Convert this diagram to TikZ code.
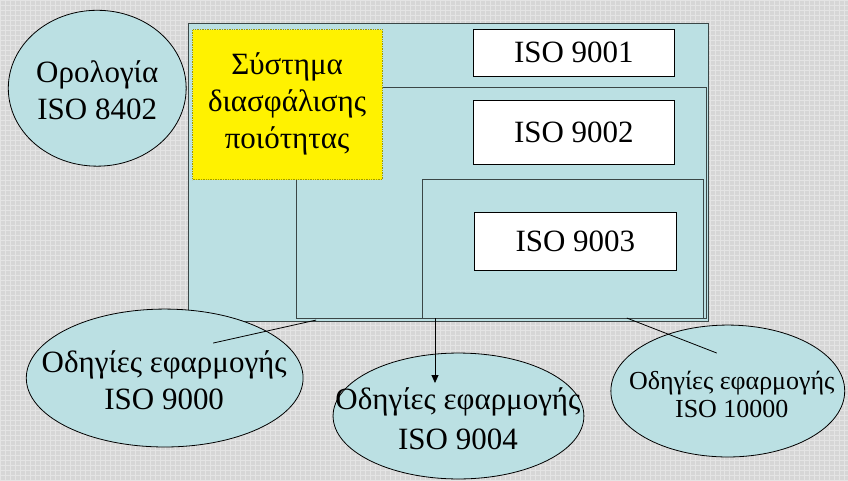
\documentclass[tikz,border=0pt]{standalone}
\usepackage{fontspec}
\newfontfamily\serifgr{Liberation Serif}
\usetikzlibrary{shapes.geometric,arrows.meta}

\definecolor{bgGray}{HTML}{D6D6D6}
\definecolor{gridLight}{HTML}{E4E4E4}
\definecolor{panel}{HTML}{BBE0E3}
\definecolor{edge}{HTML}{3A4646}
\definecolor{dotline}{HTML}{A09A00}

\begin{document}
\begin{tikzpicture}[x=1pt,y=-1pt,
  panelbox/.style={draw=edge,line width=1pt,fill=panel,inner sep=0pt,anchor=north west},
  stdbox/.style={draw=black,line width=0.8pt,fill=white,inner sep=0pt,
    font=\serifgr\fontsize{31}{37}\selectfont},
  notebox/.style={fill=yellow,draw=dotline,densely dotted,line width=0.7pt,
    inner sep=0pt,anchor=north west},
  bubble/.style={ellipse,draw=black,line width=0.8pt,fill=panel,inner sep=0pt},
  bigtext/.style={font=\serifgr\fontsize{31}{37}\selectfont,align=center,inner sep=0pt},
  smalltext/.style={font=\serifgr\fontsize{26}{28}\selectfont,align=center,inner sep=0pt},
  link/.style={draw=black,line width=0.8pt}]

% backdrop: grey with a fine lighter grid
\fill[bgGray] (0,0) rectangle (848,480);
\draw[gridLight,line width=0.6pt,step=5pt] (0,0) grid (848,480);
\useasboundingbox (0,0) rectangle (848,480);

% nested standards panels
\node[panelbox,minimum width=520pt,minimum height=298pt] (outer) at (188,23) {};
\node[panelbox,minimum width=410pt,minimum height=231pt] (mid) at (296,87) {};
\node[panelbox,minimum width=281pt,minimum height=139pt] (inner) at (422,179) {};

% quality system label
\node[notebox,minimum width=190pt,minimum height=150pt] (qs) at (192,29) {};
\node[bigtext] (qstext) at (287,104) {Σύστημα\\διασφάλισης\\ποιότητας};

% standard boxes
\node[stdbox,minimum width=202pt,minimum height=47pt] (s9001) at (574,52.5) {ISO 9001};
\node[stdbox,minimum width=202pt,minimum height=64pt] (s9002) at (574,132.5) {ISO 9002};
\node[stdbox,minimum width=203pt,minimum height=58pt] (s9003) at (575.5,241) {ISO 9003};

% ellipses
\node[bubble,minimum width=178pt,minimum height=156pt] (e8402) at (97,88) {};
\node[bigtext] (t8402) at (e8402.center) [yshift=-2pt] {Ορολογία\\ISO 8402};

\node[bubble,minimum width=277pt,minimum height=138pt] (e9000) at (164.5,378) {};
\node[bigtext] (t9000) at (164,380) {Οδηγίες εφαρμογής\\ISO 9000};

\node[bubble,minimum width=251pt,minimum height=126pt] (e9004) at (458.5,416) {};
\node[bigtext,font=\serifgr\fontsize{31}{40}\selectfont] (t9004) at (458,418.5) {Οδηγίες εφαρμογής\\ISO 9004};

\node[bubble,minimum width=234pt,minimum height=132pt] (e10000) at (728,391) {};
\node[smalltext] (t10000) at (732,394) {Οδηγίες εφαρμογής\\ISO 10000};

% connector ends
\coordinate (a9000) at (213,343);
\coordinate (b9000) at (316,320);
\coordinate (a9004) at (435,318);
\coordinate (b9004) at (435,383);
\coordinate (a10000) at (627,318);
\coordinate (b10000) at (717,353);

\draw[link] (a9000) -- (b9000);
\draw[link,-{Triangle[length=8pt,width=7pt]}] (a9004) -- (b9004);
\draw[link] (a10000) -- (b10000);
\end{tikzpicture}
\end{document}
